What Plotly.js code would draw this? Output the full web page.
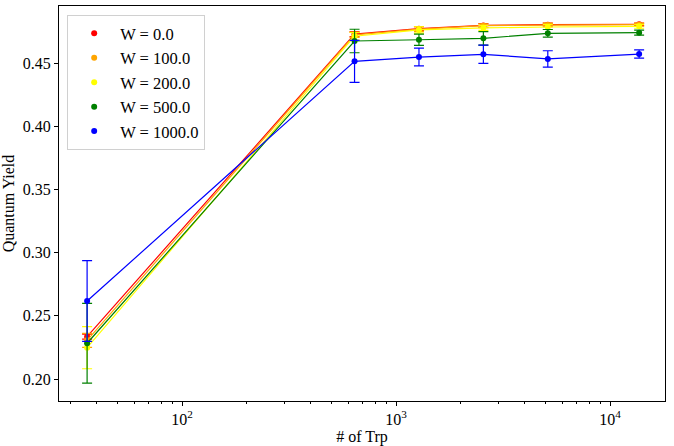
<!DOCTYPE html>
<html>
<head>
<meta charset="utf-8">
<script src="https://cdn.plot.ly/plotly-3.0.1.min.js"></script>
<style>html,body{margin:0;padding:0;background:#fff;}#chart{width:674px;height:446px;}</style>
</head>
<body>
<div id="chart"></div>
<script>
const trpCounts = [36, 640, 1280, 2560, 5120, 13680];
const seriesNames = ["W = 0.0", "W = 100.0", "W = 200.0", "W = 500.0", "W = 1000.0"];
const seriesColors = ["#ff0000", "#ffa500", "#ffff00", "#008000", "#0000ff"];
const yieldW0 = [0.2335, 0.4728, 0.4772, 0.4797, 0.4803, 0.4806];
const errW0 = [0.002, 0.002, 0.0015, 0.0015, 0.0012, 0.001];
const yieldW100 = [0.2306, 0.4722, 0.4768, 0.4795, 0.4800, 0.4803];
const errW100 = [0.0055, 0.002, 0.002, 0.0015, 0.0015, 0.0012];
const yieldW200 = [0.2248, 0.4712, 0.4762, 0.4778, 0.4785, 0.4790];
const errW200 = [0.0167, 0.003, 0.0025, 0.002, 0.002, 0.0015];
const yieldW500 = [0.2283, 0.4674, 0.4684, 0.4695, 0.4735, 0.4740];
const errW500 = [0.0316, 0.0093, 0.0044, 0.0053, 0.003, 0.002];
const yieldW1000 = [0.2617, 0.4513, 0.4547, 0.4569, 0.4532, 0.4571];
const errW1000 = [0.032, 0.0166, 0.007, 0.0072, 0.0065, 0.0033];
const xTickVals = [100, 1000, 10000];
const xTickText = ["10<sup>2</sup>", "10<sup>3</sup>", "10<sup>4</sup>"];
const yTickVals = [0.20, 0.25, 0.30, 0.35, 0.40, 0.45];
const yTickText = ["0.20", "0.25", "0.30", "0.35", "0.40", "0.45"];

const allY = [yieldW0, yieldW100, yieldW200, yieldW500, yieldW1000];
const allErr = [errW0, errW100, errW200, errW500, errW1000];
const font = "Liberation Serif, Times New Roman, serif";

const traces = [];
allY.forEach((ys, i) => {
  traces.push({
    x: trpCounts, y: ys, type: "scatter", mode: "lines+markers",
    line: {color: seriesColors[i], width: 1.2},
    marker: {color: seriesColors[i], size: 6},
    error_y: {type: "data", array: allErr[i], visible: true, color: seriesColors[i], thickness: 1.2, width: 5},
    showlegend: false, hoverinfo: "skip"
  });
});
allY.forEach((ys, i) => {
  traces.push({
    x: [null], y: [null], type: "scatter", mode: "markers",
    name: seriesNames[i],
    marker: {color: seriesColors[i], size: 6},
    showlegend: true
  });
});

const layout = {
  width: 674, height: 446,
  margin: {l: 59, r: 9, t: 6, b: 45},
  paper_bgcolor: "#fff", plot_bgcolor: "#fff",
  font: {family: font, size: 16, color: "#000"},
  showlegend: true,
  legend: {
    x: 0.0135, y: 0.977, xanchor: "left", yanchor: "top",
    bordercolor: "#d0d0d0", borderwidth: 1, bgcolor: "rgba(255,255,255,0.8)",
    font: {family: font, size: 16.5, color: "#000"},
    tracegroupgap: 0, itemwidth: 42
  },
  xaxis: {
    type: "log", range: [1.425, 4.257],
    showgrid: false, zeroline: false,
    showline: true, linecolor: "#000", linewidth: 1, mirror: true,
    ticks: "outside", ticklen: 4, tickcolor: "#000",
    tickvals: xTickVals, ticktext: xTickText,
    tickfont: {family: font, size: 16},
    minor: {ticks: "outside", ticklen: 2, tickcolor: "#000", dtick: "D1", showgrid: false},
    title: {text: "# of Trp", font: {family: font, size: 16}, standoff: 0}
  },
  yaxis: {
    range: [0.1826, 0.4951],
    showgrid: false, zeroline: false,
    showline: true, linecolor: "#000", linewidth: 1, mirror: true,
    ticks: "outside", ticklen: 4, tickcolor: "#000",
    tickvals: yTickVals, ticktext: yTickText,
    tickfont: {family: font, size: 16},
    title: {text: "Quantum Yield", font: {family: font, size: 16}, standoff: 4}
  }
};

Plotly.newPlot("chart", traces, layout, {displayModeBar: false, staticPlot: true});
</script>
</body>
</html>
